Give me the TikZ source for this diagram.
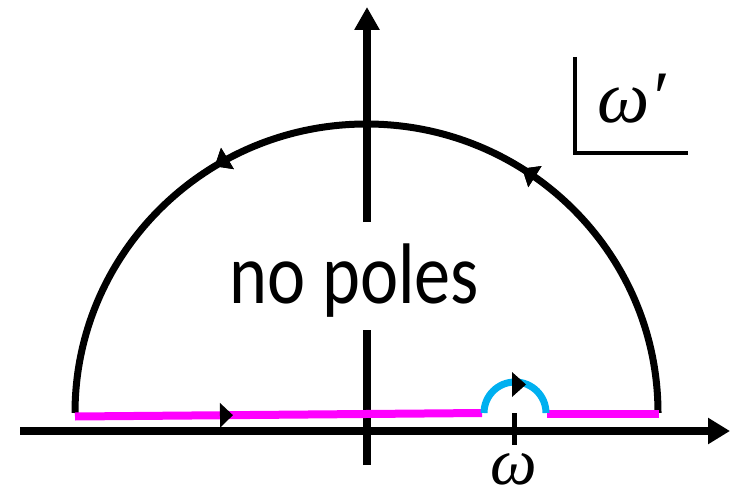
\documentclass[tikz,border=0pt]{standalone}
\usepackage{fontspec}
\setmainfont{Carlito}
\newfontfamily\wfont{Liberation Serif}
\usetikzlibrary{arrows.meta,decorations.markings}
\definecolor{mag}{RGB}{255,0,255}
\definecolor{cyanb}{RGB}{0,176,240}
\begin{document}
\begin{tikzpicture}[x=1pt,y=-1pt,
  axis/.style={line width=8pt},
  contour/.style={line width=7pt},
  tipmark/.style={postaction={decorate},decoration={markings,mark=at position #1 with {\arrow{Triangle[length=15pt,width=24pt]}}}},
]
\useasboundingbox (0,0) rectangle (738,497);
% axes
\coordinate (hl) at (20,431);
\coordinate (hr) at (730,431);
\coordinate (vb) at (367,465);
\coordinate (vg1) at (367,330);
\coordinate (vg2) at (367,222);
\coordinate (vt) at (367,7);
\draw[axis,-{Triangle[length=22pt,width=25pt]}] (hl) -- (hr);
\draw[axis] (vb) -- (vg1);
\draw[axis,-{Triangle[length=23pt,width=24pt]}] (vg2) -- (vt);
% tick
\coordinate (t1) at (514,413);
\coordinate (t2) at (514,445);
\draw[line width=5pt] (t1) -- (t2);
% big arc
\coordinate (ar) at (658,413);
\draw[contour,tipmark=0.32,postaction={decorate},decoration={markings,mark=at position 0.675 with {\arrow{Triangle[length=15pt,width=24pt]}}}]
  (ar) arc[start angle=0,end angle=180,x radius=291.5pt,y radius=289pt];
% magenta segments
\coordinate (m1) at (75,416.5);
\coordinate (m2) at (482,413);
\coordinate (m3) at (547,413.5);
\coordinate (m4) at (659,413.5);
\draw[mag,line width=8pt,postaction={decorate},decoration={markings,mark=at position 158pt with {\arrow[black]{Triangle[length=13pt,width=24pt]}}}] (m1) -- (m2);
\draw[mag,line width=8pt] (m3) -- (m4);
% blue small arc
\draw[cyanb,line width=7pt] (m2) ++(2,0) arc[start angle=180,end angle=0,radius=31pt];
\coordinate (b1) at (512,372);
\coordinate (b2) at (526,384.5);
\coordinate (b3) at (512,397);
\fill (b1) -- (b2) -- (b3) -- cycle;
% text
\node (np) [anchor=base,font=\fontsize{86}{90}\selectfont,inner sep=0pt,xscale=0.84] at (354.5,303) {no poles};
\node (w) [anchor=base,font=\fontsize{66}{72}\selectfont\wfont\itshape,inner sep=0pt,text depth=0pt] at (514,484) {ω};
% corner symbol
\coordinate (c1) at (575,57);
\coordinate (c2) at (575,153);
\coordinate (c3) at (688,153);
\draw[line width=3.5pt] (c1) -- (c2) -- (c3);
\node (wp) [anchor=base west,font=\fontsize{74}{80}\selectfont\wfont\itshape,inner sep=0pt] at (597,123) {ω′};
\end{tikzpicture}
\end{document}
